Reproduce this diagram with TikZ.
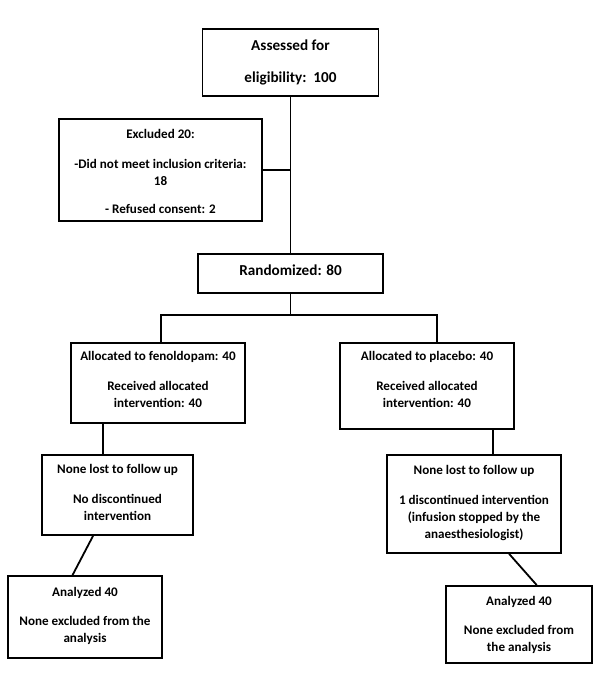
\documentclass[tikz,border=0pt]{standalone}
\usepackage{fontspec}
\setmainfont{Carlito}
\usetikzlibrary{calc}
\tikzset{
  box/.style={draw=black, line width=1.8pt, rectangle, inner sep=0pt},
  txt/.style={align=center, inner sep=0pt, anchor=base, font=\bfseries\fontsize{13.1}{17}\selectfont},
  bigtxt/.style={txt, font=\bfseries\fontsize{15.2}{18}\selectfont},
  conn/.style={draw=black, line width=1.8pt}
}
\begin{document}
\begin{tikzpicture}[x=1pt,y=-1pt]
\useasboundingbox[fill=white] (0,0) rectangle (600,678);
% boxes
\node[box, minimum width=176pt, minimum height=67pt] (top) at (290.5,62.5) {};
\node[box, minimum width=203pt, minimum height=102pt] (excl) at (160.5,170) {};
\node[box, minimum width=185pt, minimum height=39pt] (rand) at (290.5,273.5) {};
\node[box, minimum width=174pt, minimum height=80pt] (allocL) at (158,383) {};
\node[box, minimum width=174pt, minimum height=86pt] (allocR) at (427,386) {};
\node[box, minimum width=151pt, minimum height=80pt] (noneL) at (117.5,495) {};
\node[box, minimum width=174pt, minimum height=98pt] (noneR) at (474,504) {};
\node[box, minimum width=154pt, minimum height=82pt] (anaL) at (85,617) {};
\node[box, minimum width=146pt, minimum height=77pt] (anaR) at (519,624.5) {};
% texts (anchor = baseline of the last line)
\node[bigtxt] (topT) at (290.5,82.5) {Assessed for\\[14pt]eligibility:~~100};
\node[txt] (exclT) at (160.5,213.5) {Excluded 20:\\[13pt]-Did not meet inclusion criteria:\\18\\[11pt]- Refused consent: 2};
\node[bigtxt] (randT) at (290.5,275.5) {Randomized: 80};
\node[txt] (allocLT) at (158,407.5) {Allocated to fenoldopam: 40\\[13pt]Received allocated\\intervention: 40};
\node[txt] (allocRT) at (427,407.5) {Allocated to placebo: 40\\[13pt]Received allocated\\intervention: 40};
\node[txt] (noneLT) at (117.5,520.5) {None lost to follow up\\[13pt]No discontinued\\intervention};
\node[txt] (noneRT) at (474,538.5) {None lost to follow up\\[13pt]1 discontinued intervention\\(infusion stopped by the\\anaesthesiologist)};
\node[txt] (anaLT) at (85,642.5) {Analyzed 40\\[12pt]None excluded from the\\analysis};
\node[txt] (anaRT) at (519,651.5) {Analyzed 40\\[12pt]None excluded from\\the analysis};
% connectors
\coordinate (bL) at (161,315);
\coordinate (bR) at (437,315);
\coordinate (cL) at (103,0);
\coordinate (cR) at (493,0);
\draw[conn] (top.south) -- (rand.north);
\draw[conn] (excl.east) -- (excl.east -| top.south);
\draw[conn] (rand.south) -- (rand.south |- bL);
\draw[conn] (bL |- allocL.north) -- (bL) -- (bR) -- (bR |- allocR.north);
\draw[conn] (cL |- allocL.south) -- (cL |- noneL.north);
\draw[conn] (cR |- allocR.south) -- (cR |- noneR.north);
\draw[conn] ($(noneL.south west)!0.34!(noneL.south east)$) -- ($(anaL.north west)!0.42!(anaL.north east)$);
\draw[conn] ($(noneR.south west)!0.70!(noneR.south east)$) -- ($(anaR.north west)!0.62!(anaR.north east)$);
\end{tikzpicture}
\end{document}
